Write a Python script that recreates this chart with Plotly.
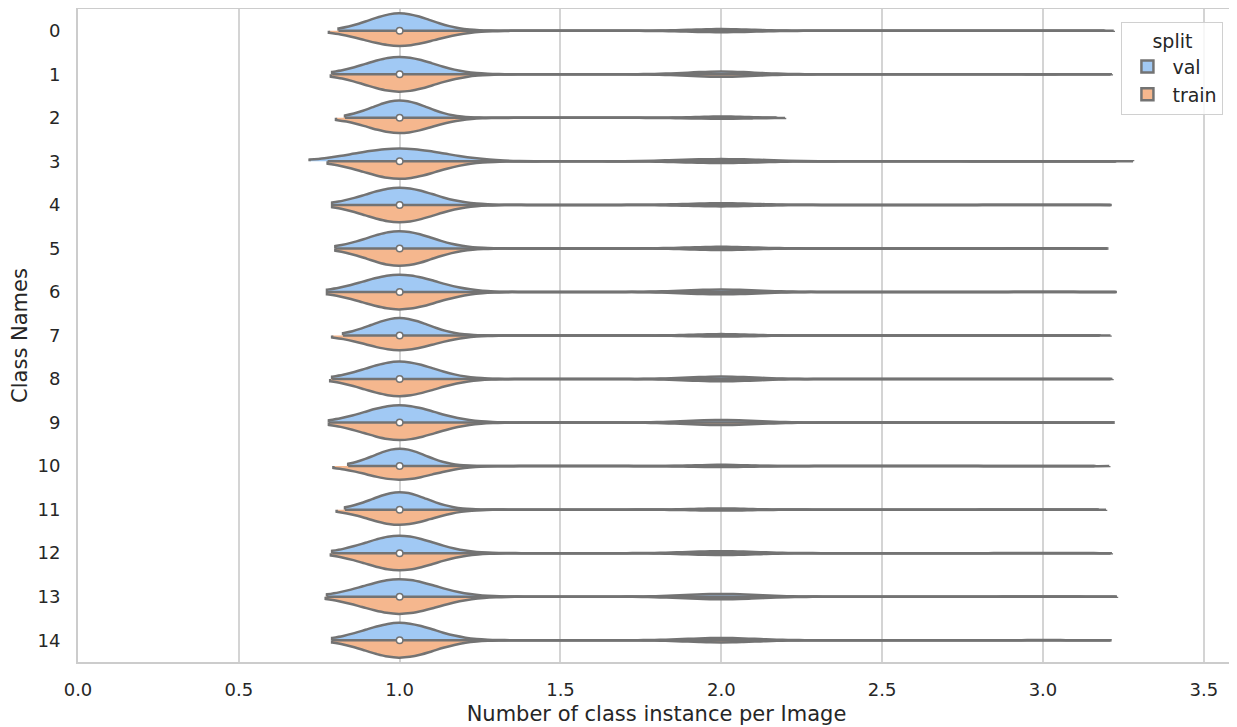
import numpy as np
import plotly.graph_objects as go

classes = [str(i) for i in range(15)]
splits = ["val", "train"]

# counts of images having 1, 2, 3 instances of the class
val_ones = [310, 290, 120, 80, 260, 300, 240, 150, 280, 250, 110, 130, 270, 230, 280]
val_twos = [30, 45, 9, 14, 25, 28, 34, 12, 40, 38, 8, 9, 30, 36, 36]
val_threes = [2, 2, 0, 1, 2, 2, 2, 1, 2, 2, 1, 1, 2, 2, 2]
train_ones = [1250, 1180, 520, 1100, 1050, 1200, 980, 610, 1130, 1010, 450, 530, 1090, 940, 1130]
train_twos = [115, 165, 30, 105, 90, 105, 135, 45, 150, 145, 30, 33, 120, 145, 145]
train_threes = [6, 6, 0, 6, 6, 6, 6, 5, 6, 6, 5, 5, 6, 6, 6]

# KDE bandwidths
val_bw = [0.095, 0.105, 0.085, 0.14, 0.105, 0.10, 0.113, 0.088, 0.105, 0.11, 0.08, 0.085, 0.105, 0.113, 0.105]
train_bw = [0.11, 0.107, 0.099, 0.112, 0.105, 0.10, 0.113, 0.105, 0.108, 0.11, 0.103, 0.098, 0.107, 0.115, 0.105]

x_ticks = [0.0, 0.5, 1.0, 1.5, 2.0, 2.5, 3.0, 3.5]

colors = {"val": "#a1c9f4", "train": "#f5b78e"}
line_col = "#737373"

data = {
    "val": (val_ones, val_twos, val_threes, val_bw),
    "train": (train_ones, train_twos, train_threes, train_bw),
}

fig = go.Figure()

def samples(o, t, th):
    return np.concatenate([np.full(o, 1.0), np.full(t, 2.0), np.full(th, 3.0)])

medians = []
cx, cy = [], []
for i, c in enumerate(classes):
    peaks = {}
    for s in splits:
        o, t, th, bw = data[s]
        p1 = o[i] / (o[i] + t[i] + th[i])
        peaks[s] = p1 / bw[i]
    pmax = max(peaks.values())
    all_vals = []
    lo, hi = [], []
    for s in splits:
        o, t, th, bw = data[s]
        v = samples(o[i], t[i], th[i])
        all_vals.append(v)
        lo.append(v.min() - 2 * bw[i])
        hi.append(v.max() + 2 * bw[i])
        fig.add_trace(go.Violin(
            x=v, y=[c] * len(v), orientation="h",
            name=s, legendgroup=s, showlegend=(i == 0),
            side="negative" if s == "val" else "positive",
            bandwidth=bw[i], spanmode="soft", scalemode="width",
            width=0.8 * peaks[s] / pmax,
            fillcolor=colors[s], opacity=1,
            line=dict(color=line_col, width=2.5),
            points=False, box_visible=False, meanline_visible=False,
            hoverinfo="skip",
        ))
    # split centre line spanning both halves
    cx += [max(lo), min(hi), None]
    cy += [c, c, None]
    medians.append(float(np.median(np.concatenate(all_vals))))

fig.add_trace(go.Scatter(
    x=cx, y=cy, mode="lines", showlegend=False,
    line=dict(color=line_col, width=2.5), hoverinfo="skip",
))
fig.add_trace(go.Scatter(
    x=medians, y=classes, mode="markers", showlegend=False,
    marker=dict(color="white", size=6.5, line=dict(color=line_col, width=1.5)),
    hoverinfo="skip",
))

fig.update_layout(
    width=1229, height=719,
    margin=dict(l=70, r=2, t=1, b=65, autoexpand=False),
    paper_bgcolor="white", plot_bgcolor="white",
    violinmode="overlay", violingap=0, violingroupgap=0,
    font=dict(family="DejaVu Sans", size=18, color="#262626"),
    legend=dict(
        title=dict(text="split", side="top center", font=dict(size=19)),
        x=0.99, y=0.98, xanchor="right", yanchor="top",
        bgcolor="rgba(255,255,255,0.8)", bordercolor="#d0d0d0", borderwidth=1,
        font=dict(size=19), traceorder="normal", itemwidth=40,
    ),
    xaxis=dict(
        range=[0, 3.597], tickvals=x_ticks, ticktext=[f"{t:.1f}" for t in x_ticks],
        showgrid=True, gridcolor="#d4d4d4", gridwidth=1.5, zeroline=False,
        showline=True, linecolor="#cccccc", linewidth=2, mirror=True,
        ticks="", automargin=False, tickfont=dict(size=18), ticklabelstandoff=10,
        title=dict(text="Number of class instance per Image", font=dict(size=21), standoff=8),
    ),
    yaxis=dict(
        categoryorder="array", categoryarray=classes, autorange=False,
        range=[14.5, -0.5],
        showgrid=False, zeroline=False,
        showline=True, linecolor="#cccccc", linewidth=2, mirror=True,
        ticks="", ticklabelstandoff=12, automargin=False, tickfont=dict(size=18),
        title=dict(text="Class Names", font=dict(size=21), standoff=12),
    ),
)

fig.write_html("out.html")
